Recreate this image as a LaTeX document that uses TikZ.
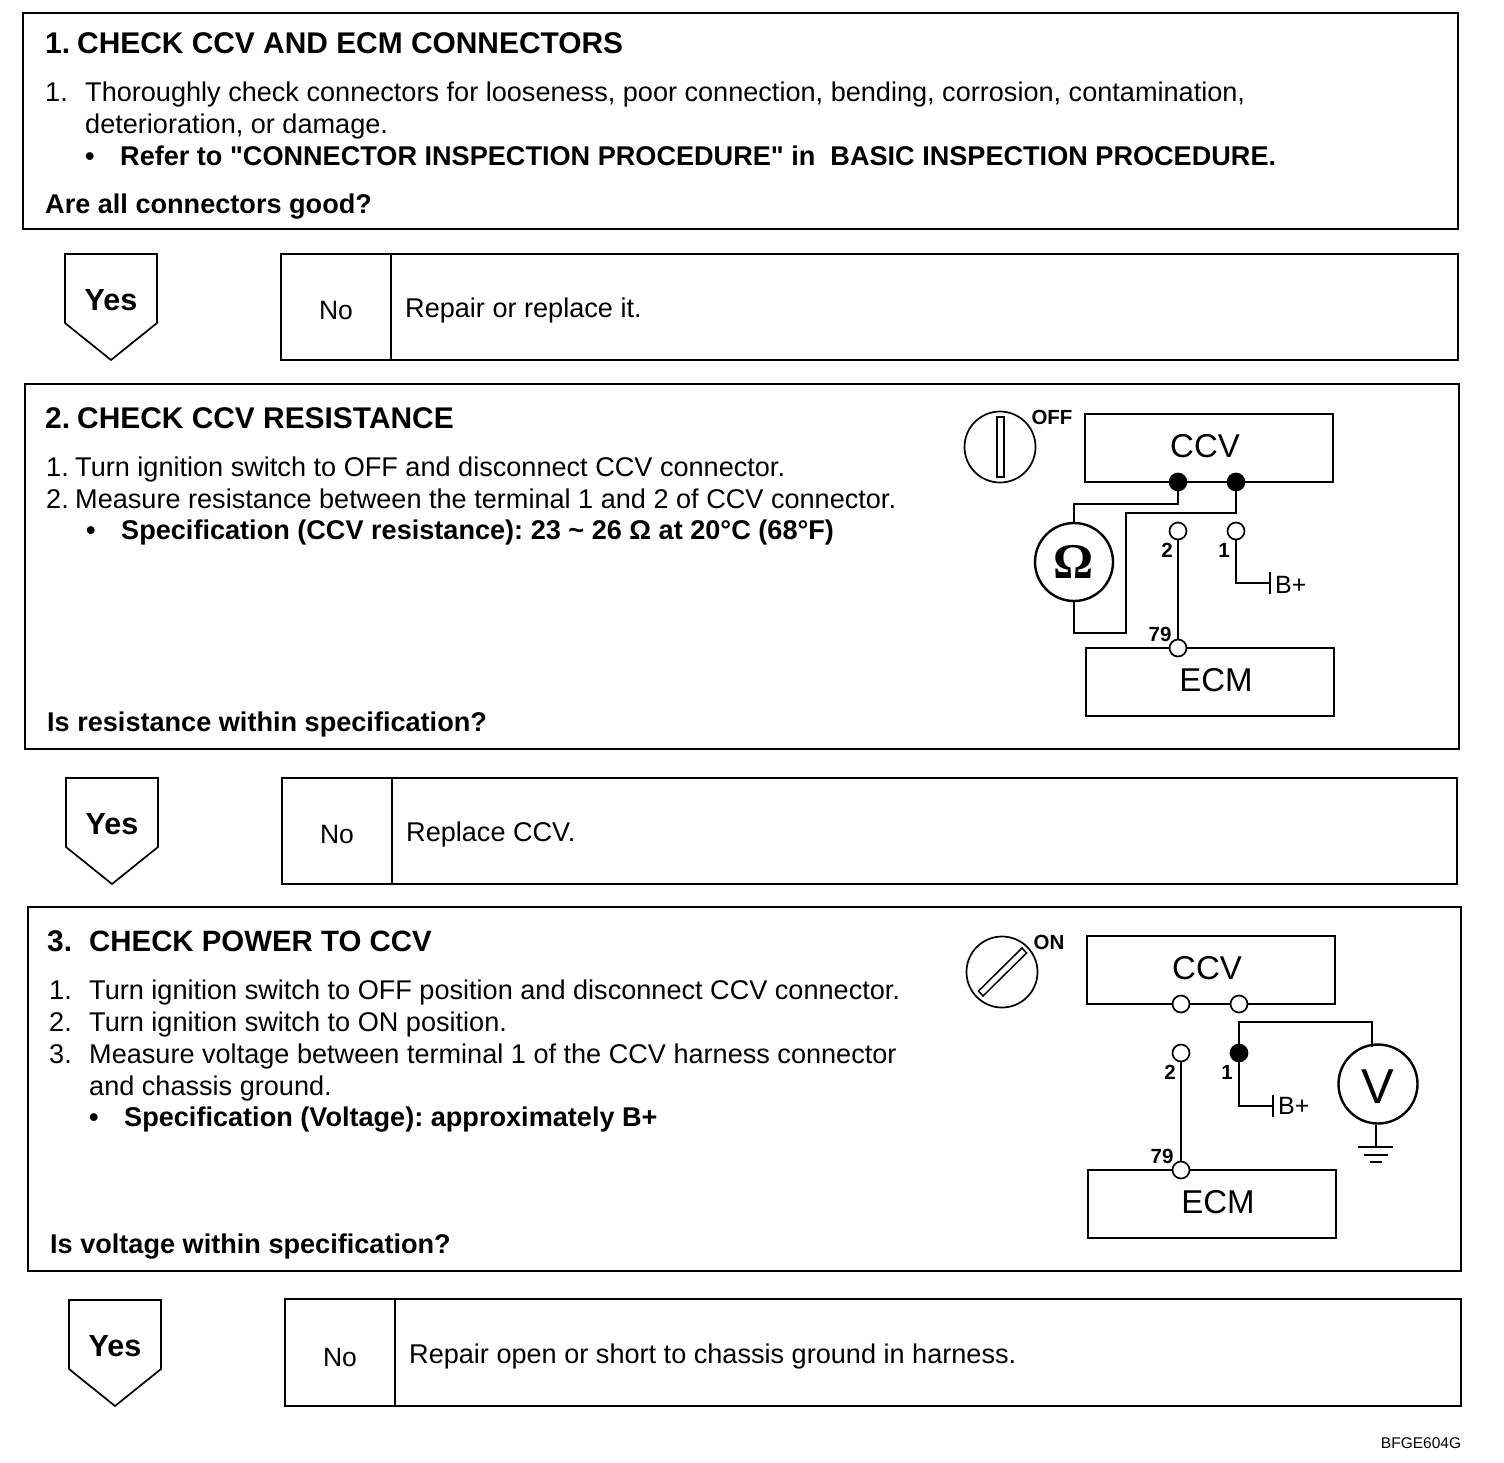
\documentclass[tikz,border=0pt]{standalone}
\usepackage{fontspec}
\setmainfont{Liberation Sans}[Ligatures=TeXOff]
\newfontfamily\omegafont{Liberation Serif}
\newcommand{\TwentySix}{\fontsize{27.1}{30}\selectfont}
\newcommand{\YesTag}[3]{%
  \draw[tagline] (#1,#2) -- ++(92,0) -- ++(0,69) -- ++(-46,37) -- ++(-46,-37) -- cycle;
  \node[yes] (#3) at (#1+46,#2+46) {Yes};}
\begin{document}
\frenchspacing
\begin{tikzpicture}[x=1pt,y=-1pt,
  frame/.style={draw,line width=1.9pt},
  tagline/.style={draw,line width=1.7pt},
  wire/.style={line width=2.1pt},
  thin wire/.style={line width=1.7pt},
  body/.style={anchor=base west,inner sep=0pt,font=\TwentySix},
  bodyb/.style={anchor=base west,inner sep=0pt,font=\TwentySix\bfseries},
  ttl/.style={anchor=base west,inner sep=0pt,font=\fontsize{29.9}{32}\selectfont\bfseries},
  ttlc/.style={anchor=base west,inner sep=0pt,font=\fontsize{29.4}{32}\selectfont\bfseries},
  yes/.style={inner sep=0pt,font=\fontsize{30.5}{32}\selectfont\bfseries},
  no/.style={inner sep=0pt,font=\fontsize{26.5}{30}\selectfont},
  part/.style={draw,line width=2pt,fill=white,minimum width=248pt,minimum height=68pt,anchor=north west,inner sep=0pt,outer sep=0pt},
  partlab/.style={inner sep=0pt,font=\fontsize{33}{36}\selectfont},
  small/.style={inner sep=0pt,font=\fontsize{20.5}{24}\selectfont\bfseries},
  pin/.style={circle,draw,line width=1.7pt,fill=white,minimum size=17pt,inner sep=0pt},
  pinf/.style={circle,draw,line width=1.7pt,fill=black,minimum size=17pt,inner sep=0pt},
  meter/.style={circle,draw,line width=2.4pt,fill=white,inner sep=0pt},
  key/.style={circle,draw,line width=1.7pt,minimum size=71pt,inner sep=0pt}]
\useasboundingbox (0,0) rectangle (1504,1462);
% section 1
\draw[frame] (23,13) rectangle (1458,229);
\node[ttl] (t1n) at (45,53) {1.};
\node[ttl] (t1) at (77,53) {CHECK CCV AND ECM CONNECTORS};
\node[body] (a1) at (45,101) {1.};
\node[body] (a2) at (85,101) {Thoroughly check connectors for looseness, poor connection, bending, corrosion, contamination,};
\node[body] (a3) at (85,133) {deterioration, or damage.};
\node[bodyb] (a4) at (85,165) {•};
\node[bodyb] (a5) at (120,165) {Refer to "CONNECTOR INSPECTION PROCEDURE" in\ \ BASIC INSPECTION PROCEDURE.};
\node[bodyb] (a6) at (45,213) {Are all connectors good?};
\YesTag{65}{254}{y1}
\draw[frame] (281,254) rectangle (1458,360);
\draw[frame] (391,254) -- (391,360);
\node[no] (n1) at (336,311) {No};
\node[body] (r1) at (405,317) {Repair or replace it.};
% section 2
\draw[frame] (25,384) rectangle (1459,749);
\node[ttl] (t2n) at (45,428) {2.};
\node[ttl] (t2) at (77,428) {CHECK CCV RESISTANCE};
\node[body] (b1) at (46,476) {1.};
\node[body] (b2) at (75,476) {Turn ignition switch to OFF and disconnect CCV connector.};
\node[body] (b3) at (46,508) {2.};
\node[body] (b4) at (75,508) {Measure resistance between the terminal 1 and 2 of CCV connector.};
\node[bodyb] (b5) at (86,539) {•};
\node[bodyb] (b6) at (121,539) {Specification (CCV resistance): 23 \char126\ 26 Ω at 20°C (68°F)};
\node[bodyb] (b7) at (47,731) {Is resistance within specification?};
\node[key] (k1) at (1000,447) {};
\draw[line width=1.5pt] (997,417) rectangle (1004,477);
\node[small] (off) at (1052,417) {OFF};
\node[part] (ccv1) at (1085,414) {};
\node[partlab] (ccv1l) at (1205,446) {CCV};
\node[part] (ecm1) at (1086,648) {};
\node[partlab] (ecm1l) at (1216,680) {ECM};
\node[meter,minimum size=78pt] (ohm) at (1074,562) {\omegafont\bfseries\fontsize{50}{50}\selectfont Ω};
\node[pinf] (p11) at (1178,482) {};
\node[pinf] (p12) at (1236,482) {};
\node[pin] (p13) at (1178,531) {};
\node[pin] (p14) at (1236,531) {};
\node[pin] (p15) at (1178,648) {};
\coordinate (c11) at (1126,513);
\coordinate (c12) at (1074,504);
\coordinate (c13) at (1074,633);
\draw[wire] (p11) |- (c12) -- (ohm.north);
\draw[wire] (ohm.south) -- (c13) -| (c11) -| (p12);
\draw[wire] (p13) -- (p15);
\coordinate (bp1) at (1270,583);
\draw[thin wire] (p14) |- (bp1);
\draw[thin wire] ([yshift=-11pt]bp1) -- ([yshift=11pt]bp1);
\node[inner sep=0pt,font=\fontsize{25}{26}\selectfont,anchor=west] (bl1) at (1275,585) {B+};
\node[small] (l12) at (1167,550) {2};
\node[small] (l11) at (1224,550) {1};
\node[small] (l179) at (1160,634) {79};
\YesTag{66}{778}{y2}
\draw[frame] (282,778) rectangle (1457,884);
\draw[frame] (392,778) -- (392,884);
\node[no] (n2) at (337,835) {No};
\node[body] (r2) at (406,841) {Replace CCV.};
% section 3
\draw[frame] (28,907) rectangle (1461,1271);
\node[ttl] (t3) at (47,951) {3.};
\node[ttlc] (t3b) at (89,951) {CHECK POWER TO CCV};
\node[body] (c1) at (49,999) {1.};
\node[body] (c2) at (89,999) {Turn ignition switch to OFF position and disconnect CCV connector.};
\node[body] (c3) at (49,1031) {2.};
\node[body] (c4) at (89,1031) {Turn ignition switch to ON position.};
\node[body] (c5) at (49,1063) {3.};
\node[body] (c6) at (89,1063) {Measure voltage between terminal 1 of the CCV harness connector};
\node[body] (c7) at (89,1095) {and chassis ground.};
\node[bodyb] (c8) at (89,1126) {•};
\node[bodyb] (c9) at (124,1126) {Specification (Voltage): approximately B+};
\node[bodyb] (c10) at (50,1253) {Is voltage within specification?};
\node[key] (k2) at (1002,972) {};
\draw[line width=1.5pt] (978.5,991) -- (1022,948) -- (1026.5,953) -- (983,996) -- cycle;
\node[small] (on) at (1049,942) {ON};
\node[part] (ccv2) at (1087,936) {};
\node[partlab] (ccv2l) at (1207,968) {CCV};
\node[part] (ecm2) at (1088,1170) {};
\node[partlab] (ecm2l) at (1218,1202) {ECM};
\node[pin] (p21) at (1181,1004) {};
\node[pin] (p22) at (1239,1004) {};
\node[pin] (p23) at (1181,1053) {};
\node[pinf] (p24) at (1239,1053) {};
\node[pin] (p25) at (1181,1170) {};
\node[meter,minimum size=79pt] (volt) at (1378,1084) {};
\node[inner sep=0pt,font=\fontsize{49}{50}\selectfont] (voltl) at (1378,1087) {V};
\coordinate (c21) at (1372,1022);
\coordinate (c22) at (1372,1047);
\draw[wire] (p24) |- (c21) -- (c22);
\draw[wire] (p23) -- (p25);
\coordinate (bp2) at (1273,1106);
\draw[thin wire] (p24) |- (bp2);
\draw[thin wire] ([yshift=-11pt]bp2) -- ([yshift=11pt]bp2);
\node[inner sep=0pt,font=\fontsize{25}{26}\selectfont,anchor=west] (bl2) at (1278,1106) {B+};
\node[small] (l22) at (1170,1072) {2};
\node[small] (l21) at (1227,1072) {1};
\node[small] (l279) at (1162,1156) {79};
\coordinate (g0) at (1376,1147);
\draw[thin wire] (volt.south -| g0) -- (g0);
\draw[thin wire] (1358,1147) -- (1393,1147);
\draw[thin wire] (1364,1155) -- (1388,1155);
\draw[thin wire] (1370,1162) -- (1382,1162);
\YesTag{69}{1300}{y3}
\draw[frame] (285,1299) rectangle (1461,1406);
\draw[frame] (395,1299) -- (395,1406);
\node[no] (n3) at (340,1357) {No};
\node[body] (r3) at (409,1363) {Repair open or short to chassis ground in harness.};
\node[inner sep=0pt,font=\fontsize{15.5}{16}\selectfont] (code) at (1421,1443) {BFGE604G};
\end{tikzpicture}
\end{document}
